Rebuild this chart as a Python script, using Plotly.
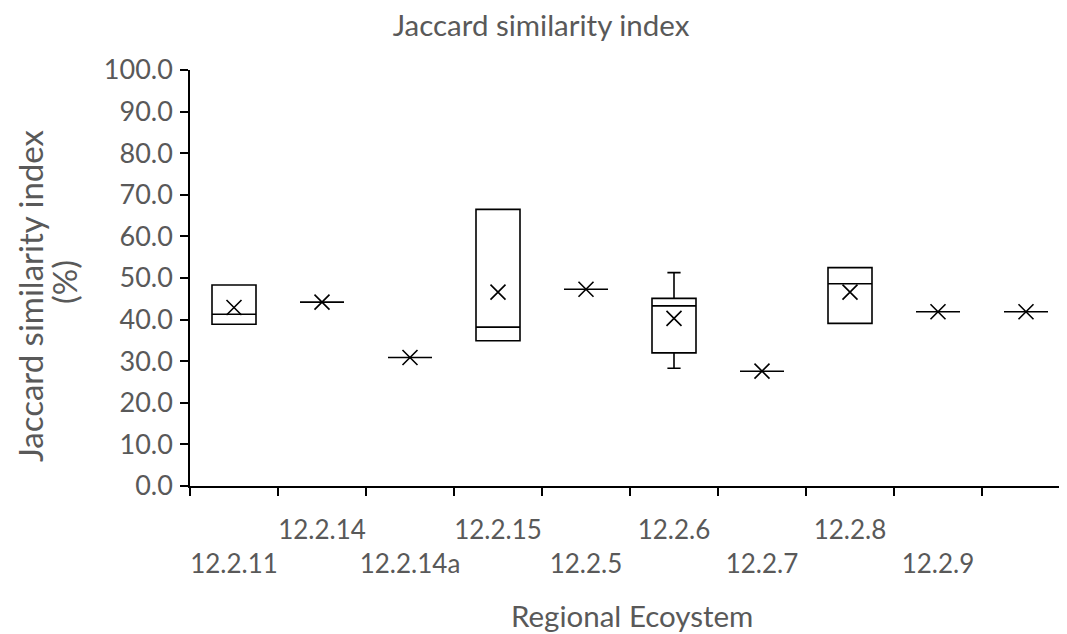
import plotly.graph_objects as go

categories = ["12.2.11", "12.2.14", "12.2.14a", "12.2.15", "12.2.5",
              "12.2.6", "12.2.7", "12.2.8", "12.2.9", "cat10"]
tick_labels = ["<br>12.2.11", "12.2.14", "<br>12.2.14a", "12.2.15", "<br>12.2.5",
               "12.2.6", "<br>12.2.7", "12.2.8", "<br>12.2.9", ""]
q1 = [38.9, 44.2, 30.9, 34.9, 47.3, 32.0, 27.6, 39.1, 41.9, 41.9]
median = [41.3, 44.2, 30.9, 38.2, 47.3, 43.3, 27.6, 48.6, 41.9, 41.9]
q3 = [48.3, 44.2, 30.9, 66.5, 47.3, 45.1, 27.6, 52.5, 41.9, 41.9]
lower = [38.9, 44.2, 30.9, 34.9, 47.3, 28.3, 27.6, 39.1, 41.9, 41.9]
upper = [48.3, 44.2, 30.9, 66.5, 47.3, 51.3, 27.6, 52.5, 41.9, 41.9]
mean = [42.9, 44.2, 30.9, 46.6, 47.3, 40.3, 27.6, 46.6, 41.9, 41.9]

FONT = "Lato"
GREY = "#595959"

# page has an 8px body margin: figure coordinates = screen - 8
W, H = 1059, 626
L, T, B = 182, 62, 148
PW, PH = W - L, H - T - B
BOTTOM = H - B

fig = go.Figure()
fig.add_trace(go.Box(
    x=categories, q1=q1, median=median, q3=q3,
    lowerfence=lower, upperfence=upper,
    width=0.5, whiskerwidth=0.3, boxpoints=False,
    fillcolor="rgba(255,255,255,0)",
    line=dict(color="black", width=1.6),
    showlegend=False, hoverinfo="skip",
))
fig.add_trace(go.Scatter(
    x=categories, y=mean, mode="markers",
    marker=dict(symbol="x-thin", size=15, color="black",
                line=dict(color="black", width=1.6)),
    showlegend=False,
))

fig.update_layout(
    width=W, height=H,
    margin=dict(l=L, r=0, t=T, b=B),
    paper_bgcolor="white", plot_bgcolor="white",
    font=dict(family=FONT, size=26, color=GREY),
    title=dict(text="Jaccard similarity index", x=533 / W, xref="container",
               xanchor="center", y=1 - 18 / H, yanchor="middle", yref="container",
               font=dict(family=FONT, size=29.5, color=GREY)),
    xaxis=dict(
        type="category", categoryorder="array", categoryarray=categories,
        range=[-0.5, -0.5 + PW / 88], automargin=False,
        tickmode="array", tickvals=categories, ticktext=tick_labels,
        tickangle=0, ticklabelstandoff=20,
        tickson="boundaries", ticks="outside", ticklen=8, tickwidth=1.5,
        tickcolor="black", showline=True, linecolor="black", linewidth=1.5,
        showgrid=False, zeroline=False,
        tickfont=dict(family=FONT, size=26, color=GREY),
    ),
    yaxis=dict(
        range=[0, 100], dtick=10, tick0=0, tickformat=".1f", automargin=False,
        ticks="outside", ticklen=8, tickwidth=1.5, tickcolor="black",
        ticklabelstandoff=2,
        showline=True, linecolor="black", linewidth=1.5,
        showgrid=False, zeroline=False,
        tickfont=dict(family=FONT, size=27, color=GREY),
    ),
    annotations=[
        dict(text="Jaccard similarity index", textangle=-90,
             xref="paper", yref="paper",
             x=(0 - L) / PW, y=(BOTTOM - 288) / PH,
             xanchor="left", yanchor="middle", showarrow=False,
             font=dict(family=FONT, size=33, color=GREY)),
        dict(text="(%)", textangle=-90,
             xref="paper", yref="paper",
             x=(56 - L) / PW, y=(BOTTOM - 274) / PH,
             xanchor="center", yanchor="middle", showarrow=False,
             font=dict(family=FONT, size=33, color=GREY)),
        dict(text="Regional Ecoystem",
             xref="paper", yref="paper",
             x=(624 - L) / PW, y=(BOTTOM - 607) / PH,
             xanchor="center", yanchor="middle", showarrow=False,
             font=dict(family=FONT, size=29.5, color=GREY)),
    ],
)

fig.write_html("out.html")
